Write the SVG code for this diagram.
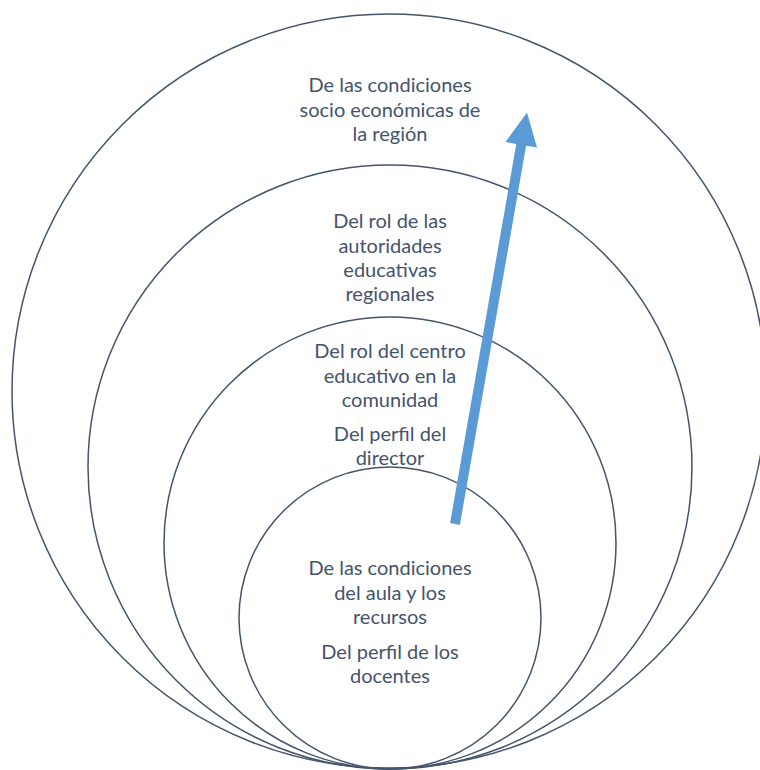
<svg xmlns="http://www.w3.org/2000/svg" width="760" height="770" viewBox="0 0 760 770">
<style>
.ring{fill:none;stroke:#44546A;stroke-width:1.5}
text{font-family:Lato,"Liberation Sans",sans-serif;font-size:20px;fill:#44546A;text-anchor:middle}
</style>
<rect width="760" height="770" fill="#fff"/>
<g id="ring-region"><circle class="ring" cx="389" cy="391" r="377"/>
<text x="390" y="92">De las condiciones</text><text x="390" y="117">socio económicas de</text><text x="390" y="141">la región</text></g>
<g id="ring-authorities"><circle class="ring" cx="390" cy="467" r="302"/>
<text x="390" y="228">Del rol de las</text><text x="390" y="253">autoridades</text><text x="390" y="277">educativas</text><text x="390" y="301">regionales</text></g>
<g id="ring-center"><circle class="ring" cx="390" cy="543" r="226"/>
<text x="390" y="358">Del rol del centro</text><text x="390" y="383">educativo en la</text><text x="390" y="407">comunidad</text>
<text x="390" y="441">Del perfil del</text><text x="390" y="465">director</text></g>
<g id="ring-classroom"><circle class="ring" cx="390" cy="618" r="151"/>
<text x="390" y="575">De las condiciones</text><text x="390" y="600">del aula y los</text><text x="390" y="624">recursos</text>
<text x="390" y="659">Del perfil de los</text><text x="390" y="683">docentes</text></g>
<g id="connectors"><polygon fill="#5B9BD5" points="450.1,523.1 459.9,524.9 526.1,145.7 537,147.6 527,112.5 505.4,142.1 516.3,143.9"/></g>
</svg>
